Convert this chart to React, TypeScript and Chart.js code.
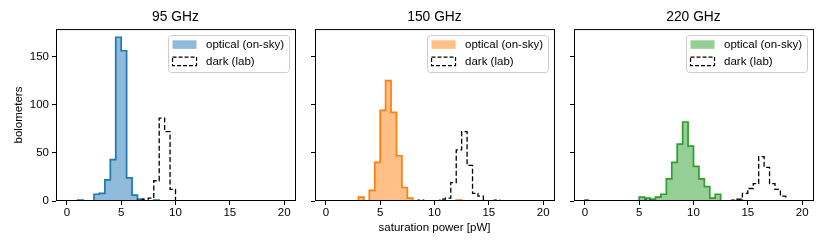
import React, { useEffect, useRef } from 'react';
import { Chart, registerables } from 'chart.js';

Chart.register(...registerables);

// ---- data ----
const binEdges = [
  0, 0.5, 1, 1.5, 2, 2.5, 3, 3.5, 4, 4.5, 5, 5.5, 6, 6.5, 7, 7.5, 8, 8.5, 9, 9.5,
  10, 10.5, 11, 11.5, 12, 12.5, 13, 13.5, 14, 14.5, 15, 15.5, 16, 16.5, 17, 17.5, 18, 18.5, 19, 19.5, 20,
];

const panelTitles = ['95 GHz', '150 GHz', '220 GHz'];
const seriesLabels = ['optical (on-sky)', 'dark (lab)'];
const xTicks = [0, 5, 10, 15, 20];
const yTicks = [0, 50, 100, 150];
const yAxisLabel = 'bolometers';
const xAxisLabel = 'saturation power [pW]';

const optical95 = [
  0, 0, 1, 0, 0, 7, 8, 22, 43, 170, 156, 24, 6, 2, 0, 0, 1, 0, 0, 0,
  0, 0, 0, 0, 0, 0, 0, 0, 0, 0, 0, 0, 0, 0, 0, 0, 0, 0, 0, 0,
];
const dark95 = [
  0, 0, 0, 0, 0, 0, 0, 0, 0, 0, 0, 0, 0, 1, 2, 3, 21, 86, 72, 12,
  0, 0, 0, 0, 0, 0, 0, 0, 0, 0, 0, 0, 0, 0, 0, 0, 0, 0, 0, 0,
];
const optical150 = [
  0, 0, 0, 0, 0, 0, 4, 0, 11, 40, 94, 125, 92, 47, 14, 3, 0, 0, 0, 0,
  0, 0, 0, 0, 1, 0, 0, 0, 0, 0, 0, 0, 0, 0, 0, 0, 0, 0, 0, 0,
];
const dark150 = [
  0, 0, 0, 0, 0, 0, 0, 0, 0, 0, 0, 0, 0, 0, 0, 0, 0, 1, 0, 0,
  0, 2, 3, 19, 53, 72, 37, 8, 5, 0, 0, 1, 0, 0, 0, 0, 0, 0, 0, 0,
];
const optical220 = [
  0, 0, 0, 0, 0, 0, 0, 0, 0, 0, 4, 3, 2, 4, 7, 23, 40, 59, 82, 57,
  36, 23, 15, 3, 7, 0, 0, 0, 1, 0, 0, 0, 0, 0, 0, 0, 0, 0, 0, 0,
];
const dark220 = [
  1, 0, 0, 0, 0, 0, 0, 0, 0, 0, 0, 1, 0, 0, 0, 0, 0, 0, 0, 0,
  0, 0, 0, 0, 0, 0, 0, 1, 2, 8, 13, 18, 46, 35, 18, 12, 5, 0, 0, 0,
];

const FONT = "'Liberation Sans', Arial, Helvetica, sans-serif";
const colors = ['#1f77b4', '#ff7f0e', '#2ca02c'];
const fills = ['rgba(31,119,180,0.5)', 'rgba(255,127,14,0.5)', 'rgba(44,160,44,0.5)'];

const yMax = Math.max(...optical95, ...dark95, ...optical150, ...dark150, ...optical220, ...dark220) * 1.05;
const xMin = binEdges[0] - (binEdges[binEdges.length - 1] - binEdges[0]) * 0.05;
const xMax = binEdges[binEdges.length - 1] + (binEdges[binEdges.length - 1] - binEdges[0]) * 0.05;

function toSteps(counts: number[]) {
  const pts = [{ x: binEdges[0], y: 0 }];
  counts.forEach((c, i) => pts.push({ x: binEdges[i], y: c }));
  pts.push({ x: binEdges[binEdges.length - 1], y: 0 });
  return pts;
}

type PanelCfg = {
  idx: number;
  left: number;
  width: number;
  yWidth: number;
  padRight: number;
  optical: number[];
  dark: number[];
  showYLabels: boolean;
  showXTitle: boolean;
};

const panels: PanelCfg[] = [
  { idx: 0, left: 0, width: 300, yWidth: 56, padRight: 5, optical: optical95, dark: dark95, showYLabels: true, showXTitle: false },
  { idx: 1, left: 300, width: 260, yWidth: 15, padRight: 6, optical: optical150, dark: dark150, showYLabels: false, showXTitle: true },
  { idx: 2, left: 560, width: 270, yWidth: 14, padRight: 17, optical: optical220, dark: dark220, showYLabels: false, showXTitle: false },
];

function Panel({ cfg }: { cfg: PanelCfg }) {
  const ref = useRef<HTMLCanvasElement>(null);
  useEffect(() => {
    const canvas = ref.current;
    if (!canvas) return;
    const color = colors[cfg.idx];
    const fill = fills[cfg.idx];
    const tickFont = { family: FONT, size: 11.5, lineHeight: 1.2 };

    const frameLegend = {
      id: 'frameLegend',
      afterDraw(chart: any) {
        const { ctx, chartArea: ca } = chart;
        ctx.save();
        // spines
        ctx.strokeStyle = '#000';
        ctx.lineWidth = 1;
        ctx.strokeRect(ca.left + 0.5, ca.top + 0.5, ca.right - ca.left, ca.bottom - ca.top - 1);
        // legend
        ctx.font = `11.5px ${FONT}`;
        const tw = Math.max(...seriesLabels.map((t) => ctx.measureText(t).width));
        const bw = 38 + tw + 5;
        const bh = 37;
        const bx = ca.right - 6 - bw;
        const by = ca.top + 6;
        ctx.beginPath();
        if ((ctx as any).roundRect) (ctx as any).roundRect(bx + 0.5, by + 0.5, bw, bh, 3);
        else ctx.rect(bx + 0.5, by + 0.5, bw, bh);
        ctx.fillStyle = 'rgba(255,255,255,0.8)';
        ctx.fill();
        ctx.strokeStyle = '#cccccc';
        ctx.lineWidth = 1;
        ctx.stroke();
        const hx = bx + 4.5;
        const hw = 24;
        const hh = 8.5;
        const cy1 = by + 9.5;
        const cy2 = by + 26.3;
        ctx.fillStyle = fill;
        ctx.fillRect(hx, cy1 - hh / 2, hw, hh);
        ctx.setLineDash([4, 2]);
        ctx.strokeStyle = '#000';
        ctx.lineWidth = 1.2;
        ctx.strokeRect(hx, cy2 - hh / 2, hw, hh);
        ctx.setLineDash([]);
        ctx.fillStyle = '#000';
        ctx.textAlign = 'left';
        ctx.textBaseline = 'middle';
        ctx.fillText(seriesLabels[0], bx + 38, cy1);
        ctx.fillText(seriesLabels[1], bx + 38, cy2);
        ctx.restore();
      },
    };

    const chart = new Chart(canvas, {
      type: 'line',
      data: {
        datasets: [
          {
            label: seriesLabels[1],
            data: toSteps(cfg.dark),
            stepped: true,
            borderColor: '#000',
            borderWidth: 1.3,
            borderDash: [5, 2.5],
            fill: false,
            pointRadius: 0,
            order: 0,
          },
          {
            label: seriesLabels[0],
            data: toSteps(cfg.optical),
            stepped: true,
            borderColor: color,
            borderWidth: 1.7,
            backgroundColor: fill,
            fill: 'origin',
            pointRadius: 0,
            order: 1,
          },
        ],
      },
      options: {
        responsive: true,
        maintainAspectRatio: false,
        animation: false,
        layout: { padding: { left: 0, right: cfg.padRight, top: 0, bottom: 0 } },
        plugins: {
          legend: { display: false },
          tooltip: { enabled: false },
          title: {
            display: true,
            text: panelTitles[cfg.idx],
            fullSize: false,
            color: '#000',
            font: { family: FONT, size: 13.8, weight: 'normal', lineHeight: 1.2 },
            padding: { top: 9, bottom: 3.5 },
          },
        },
        scales: {
          x: {
            type: 'linear',
            min: xMin,
            max: xMax,
            afterBuildTicks: (s: any) => {
              s.ticks = xTicks.map((v) => ({ value: v }));
            },
            afterFit: (s: any) => {
              s.height = 48;
            },
            grid: { drawOnChartArea: false, drawTicks: true, tickLength: 4, color: '#000', lineWidth: 1 },
            border: { display: false },
            ticks: { color: '#000', font: tickFont, padding: 1, maxRotation: 0, autoSkip: false },
            title: {
              display: cfg.showXTitle,
              text: xAxisLabel,
              color: '#000',
              font: tickFont,
              padding: { top: 0, bottom: 14 },
            },
          },
          y: {
            type: 'linear',
            min: 0,
            max: yMax,
            afterBuildTicks: (s: any) => {
              s.ticks = yTicks.map((v) => ({ value: v }));
            },
            afterFit: (s: any) => {
              s.width = cfg.yWidth;
            },
            grid: { drawOnChartArea: false, drawTicks: true, tickLength: 4, color: '#000', lineWidth: 1 },
            border: { display: false },
            ticks: { display: cfg.showYLabels, color: '#000', font: tickFont, padding: 3 },
            title: {
              display: cfg.showYLabels,
              text: yAxisLabel,
              color: '#000',
              font: tickFont,
              padding: { top: 12, bottom: 0 },
            },
          },
        },
      },
      plugins: [frameLegend],
    } as any);
    return () => chart.destroy();
  }, [cfg]);

  return (
    <div style={{ position: 'absolute', left: cfg.left, top: 0, width: cfg.width, height: 249 }}>
      <canvas ref={ref} />
    </div>
  );
}

export default function App() {
  return (
    <div style={{ position: 'fixed', left: 0, top: 0, width: 830, height: 249, background: '#fff' }}>
      {panels.map((p) => (
        <Panel key={p.idx} cfg={p} />
      ))}
    </div>
  );
}
